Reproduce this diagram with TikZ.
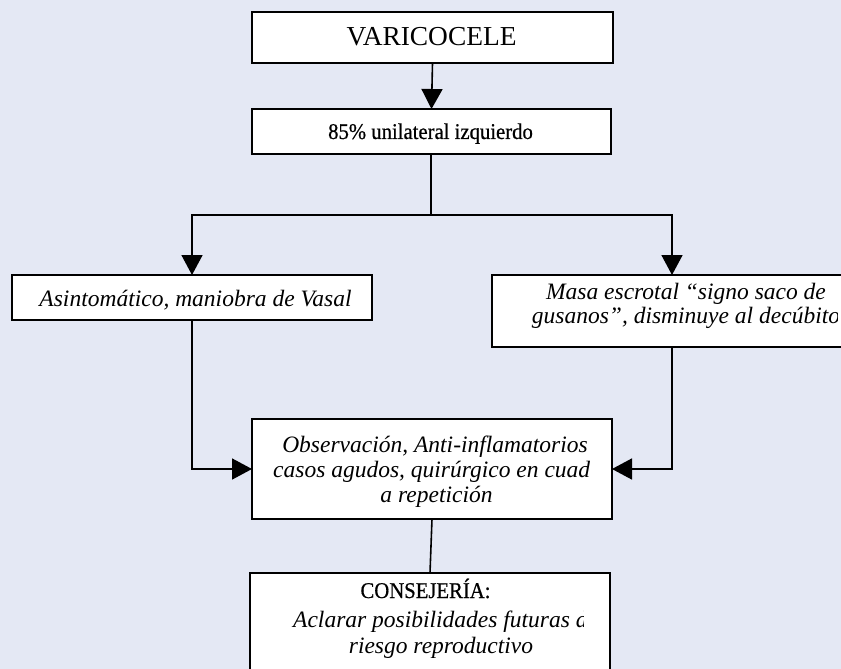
\documentclass[tikz,border=0pt]{standalone}
\usepackage{fontspec}
\setmainfont{Liberation Serif}
\newfontfamily\condensedfont{Liberation Serif}[FakeStretch=0.92,FakeBold=0.6]
\usetikzlibrary{arrows.meta}
\definecolor{pagebg}{HTML}{E4E8F4}
\begin{document}
\begin{tikzpicture}[x=1pt,y=-1pt,
  box/.style={draw=black, line width=1.6pt, fill=white, rectangle, inner sep=0pt, outer sep=0pt},
  conn/.style={line width=1.6pt, draw=black},
  arr/.style={conn, -{Triangle[length=20pt,width=21pt]}},
  itxt/.style={anchor=base, inner sep=0pt, font=\fontsize{23.5}{25}\selectfont\itshape},
  ctxt/.style={anchor=base, inner sep=0pt, font=\fontsize{22.5}{25}\selectfont\condensedfont},
  rtxt/.style={anchor=base, inner sep=0pt, font=\fontsize{27.4}{30}\selectfont}
]
\clip (0,0) rectangle (841,669);
\fill[pagebg] (0,0) rectangle (841,669);

% boxes
\node[box, minimum width=361pt, minimum height=51pt] (v) at (432.5,37.5) {};
\node[box, minimum width=359pt, minimum height=45pt] (u) at (431.5,131.5) {};
\node[box, minimum width=360pt, minimum height=45pt] (a) at (192,297.5) {};
\node[box, minimum width=360pt, minimum height=72pt] (m) at (672,311) {};
\node[box, minimum width=360pt, minimum height=100pt] (c) at (432,469) {};
\node[box, minimum width=360pt, minimum height=127pt] (k) at (430,636.5) {};

% box texts
\node[rtxt] (vt) at (431.5,46) {VARICOCELE};
\node[ctxt] (ut) at (430.5,139) {85\% unilateral izquierdo};
\node[itxt] (at) at (195.5,306) {Asintomático, maniobra de Vasal};
\begin{scope}
  \clip (492,275) rectangle (837,347);
  \node[itxt] (mt1) at (686,299) {Masa escrotal “signo saco de};
  \node[itxt] (mt2) at (686,323) {gusanos”, disminuye al decúbito};
\end{scope}
\begin{scope}
  \clip (252,419) rectangle (589.5,519);
  \node[itxt] (ct1) at (435,452) {Observación, Anti-inflamatorios};
  \node[itxt, anchor=base west] (ct2) at (273,477) {casos agudos, quirúrgico en cuadros};
  \node[itxt] (ct3) at (436.5,502) {a repetición};
\end{scope}
\node[ctxt] (kt1) at (425.5,598) {CONSEJERÍA:};
\begin{scope}
  \clip (250,573) rectangle (583.5,669);
  \node[itxt, anchor=base west] (kt2) at (293,627) {Aclarar posibilidades futuras de};
\end{scope}
\node[itxt] (kt3) at (441,653) {riesgo reproductivo};

% connectors
\coordinate (split) at (431,215);
\draw[arr] (v.south) -- (u.north);
\draw[conn] (u.south -| split) -- (split);
\draw[arr] (split) -| (a.north);
\draw[arr] (split) -| (m.north);
\draw[arr] (a.south) |- (c.west);
\draw[arr] (m.south) |- (c.east);
\draw[conn] (c.south) -- (k.north);
\end{tikzpicture}
\end{document}
